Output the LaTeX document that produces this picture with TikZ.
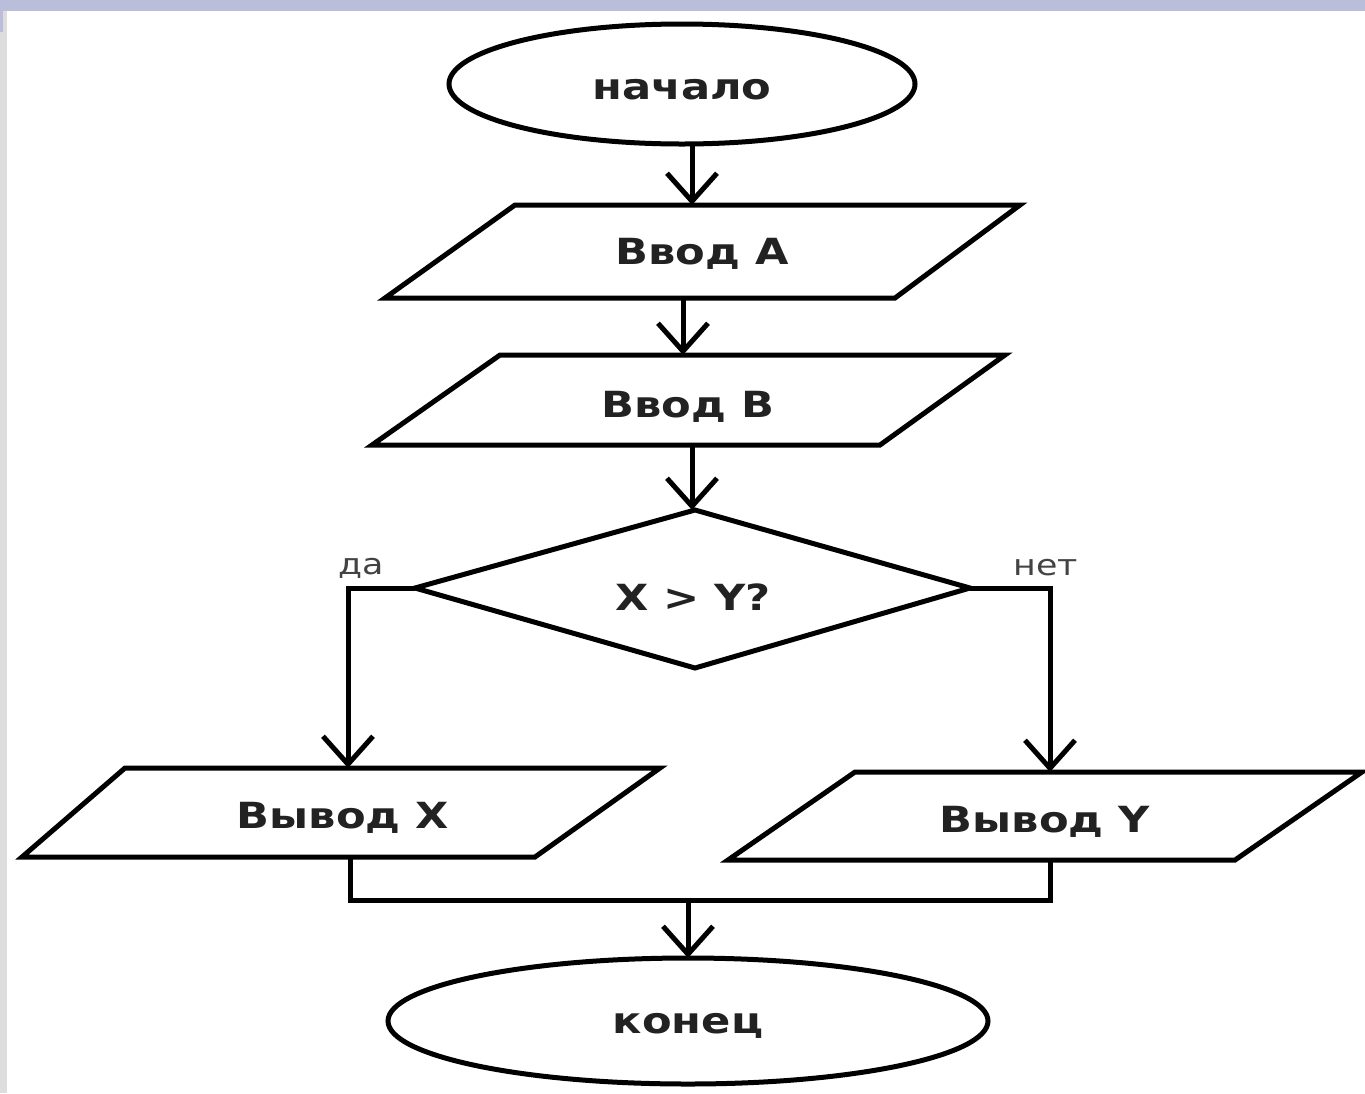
\documentclass[tikz,border=0pt]{standalone}
\usepackage{fontspec}
\setmainfont{DejaVu Sans}[FakeStretch=1.2]
\usetikzlibrary{arrows.meta,shapes.geometric}
\definecolor{band}{HTML}{BBBEDB}
\definecolor{strip}{HTML}{DDDDDD}
\definecolor{txt}{HTML}{222222}
\tikzset{
  shapeline/.style={draw=black,line width=2.5pt,line join=miter},
  flow/.style={draw=black,line width=2.5pt,-{Straight Barb[length=14pt,width=25pt,line width=2.5pt]}},
  mergeline/.style={draw=black,line width=2.5pt},
  lbl/.style={font=\bfseries\fontsize{18}{20}\selectfont,text=txt,inner sep=0pt},
  small/.style={font=\fontsize{14.5}{16}\selectfont,text=txt!85,inner sep=0pt},
}
\begin{document}
\begin{tikzpicture}[x=0.5pt,y=-0.5pt]
\useasboundingbox (0,0) rectangle (1365,1093);
% page decorations
\fill[white] (0,0) rectangle (1365,1093);
\fill[band] (0,0) rectangle (1365,11);
\fill[strip] (0,11) rectangle (7,1093);
\fill[band] (0,11) rectangle (3,32);

% start ellipse
\draw[shapeline] (682,84) ellipse [x radius=233, y radius=60];
\node[lbl] (start) at (682,90) {начало};
\coordinate (startB) at (692,144);

% Input A
\draw[shapeline] (515,205) -- (1020,205) -- (895,298) -- (385,298) -- cycle;
\node[lbl] (inA) at (702,254) {Ввод А};
\coordinate (inAT) at (692,205);
\coordinate (inAB) at (683,298);

% Input B
\draw[shapeline] (500,355) -- (1005,355) -- (880,445) -- (372,445) -- cycle;
\node[lbl] (inB) at (688,407) {Ввод B};
\coordinate (inBT) at (683,355);
\coordinate (inBB) at (692,445);

% Decision
\draw[shapeline] (695,510) -- (970,588) -- (695,668) -- (415,588) -- cycle;
\node[lbl] (dec) at (693,597) {X > Y?};
\coordinate (decT) at (692,510);
\coordinate (decL) at (415,588);
\coordinate (decR) at (970,588);
\coordinate (cornL) at (348,588);
\coordinate (cornR) at (1050,588);
\node[small] (yes) at (361,568) {да};
\node[small] (no) at (1046,568) {нет};

% Output X
\draw[shapeline] (125,768) -- (660,768) -- (535,857) -- (22,857) -- cycle;
\node[lbl] (outX) at (343,818) {Вывод X};
\coordinate (outXT) at (348,768);
\coordinate (outXB) at (350,857);

% Output Y
\draw[shapeline] (855,772) -- (1362,772) -- (1235,860) -- (728,860) -- cycle;
\node[lbl] (outY) at (1045,822) {Вывод Y};
\coordinate (outYT) at (1050,772);
\coordinate (outYB) at (1050,860);

% merge
\coordinate (mL) at (350,900);
\coordinate (mR) at (1050,900);
\coordinate (mC) at (688,900);

% end ellipse
\draw[shapeline] (688,1021) ellipse [x radius=300, y radius=63];
\node[lbl] (stop) at (688,1026) {конец};
\coordinate (stopT) at (688,958);

% connectors
\draw[flow] (startB) -- (inAT);
\draw[flow] (inAB) -- (inBT);
\draw[flow] (inBB) -- (decT);
\draw[flow] (decL) -- (cornL) -- (outXT);
\draw[flow] (decR) -- (cornR) -- (outYT);
\draw[mergeline] (outXB) -- (mL) -- (mR) -- (outYB);
\draw[flow] (mC) -- (stopT);
\end{tikzpicture}
\end{document}
